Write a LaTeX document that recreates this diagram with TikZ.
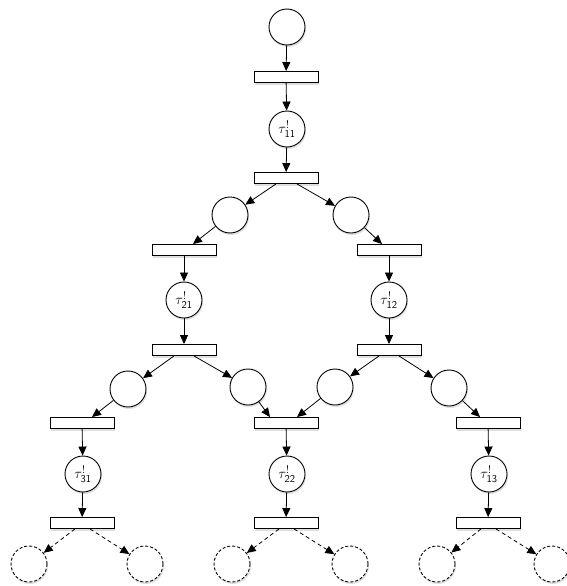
\documentclass[tikz,border=0pt]{standalone}
\usepackage{fontspec}
\setmainfont{Liberation Sans}
\usetikzlibrary{arrows.meta,calc,shadows}
\newcommand{\tlab}[1]{$\tau^{!}_{\mathsf{#1}}$}
\begin{document}
\begin{tikzpicture}[x=1pt,y=-1pt,
  shad/.style={drop shadow={shadow xshift=1pt,shadow yshift=-2pt,opacity=0.25}},
  place/.style={circle,draw,minimum size=36pt,inner sep=0pt,fill=white,line width=0.9pt,shad,font=\fontsize{15}{17}\selectfont},
  dplace/.style={circle,draw,dash pattern=on 3pt off 2pt,minimum size=36pt,inner sep=0pt,fill=white,line width=0.9pt,shad},
  trans/.style={rectangle,draw,minimum width=64pt,minimum height=11pt,inner sep=0pt,fill=white,line width=0.9pt,shad},
  arr/.style={-{Triangle[length=9pt,width=8pt]},line width=0.8pt},
  darr/.style={arr,dash pattern=on 4pt off 3pt}]
\useasboundingbox (0,0) rectangle (567,586);
% top chain
\node[place] (p0) at (287,27) {};
\node[trans] (t1) at (286,77) {};
\node[place] (p1) at (287,129) {\tlab{11}};
\node[trans] (t2) at (286,178) {};
% level 2
\node[place] (pL2) at (230,215) {};
\node[place] (pR2) at (351,215) {};
\node[trans] (tL2) at (184,250) {};
\node[trans] (tR2) at (389,250) {};
\node[place] (p21) at (184,300) {\tlab{21}};
\node[place] (p12) at (389,300) {\tlab{12}};
\node[trans] (tL2b) at (184,350) {};
\node[trans] (tR2b) at (389,350) {};
% level 3
\node[place] (pa) at (128,389) {};
\node[place] (pb) at (248,387) {};
\node[place] (pc) at (335,387) {};
\node[place] (pd) at (449,388) {};
\node[trans] (tA) at (82,423) {};
\node[trans] (tB) at (286,423) {};
\node[trans] (tC) at (488,423) {};
\node[place] (p31) at (83,474) {\tlab{31}};
\node[place] (p22) at (287,474) {\tlab{22}};
\node[place] (p13) at (489,474) {\tlab{13}};
\node[trans] (tA2) at (82,523) {};
\node[trans] (tB2) at (286,523) {};
\node[trans] (tC2) at (488,523) {};
% dashed places
\node[dplace] (d1) at (29,564) {};
\node[dplace] (d2) at (145,564) {};
\node[dplace] (d3) at (232,564) {};
\node[dplace] (d4) at (350,564) {};
\node[dplace] (d5) at (437,564) {};
\node[dplace] (d6) at (552,564) {};
% arcs
\draw[arr] (p0) -- (t1);
\draw[arr] (t1) -- (p1);
\draw[arr] (p1) -- (t2);
\draw[arr] ($(t2.south)+(-10,0)$) -- (pL2);
\draw[arr] ($(t2.south)+(11,0)$) -- (pR2);
\draw[arr] (pL2) -- ($(tL2.north)+(9,0)$);
\draw[arr] (pR2) -- ($(tR2.north)+(-7,0)$);
\draw[arr] (tL2) -- (p21);
\draw[arr] (tR2) -- (p12);
\draw[arr] (p21) -- (tL2b);
\draw[arr] (p12) -- (tR2b);
\draw[arr] ($(tL2b.south)+(-10,0)$) -- (pa);
\draw[arr] ($(tL2b.south)+(10,0)$) -- (pb);
\draw[arr] ($(tR2b.south)+(-10,0)$) -- (pc);
\draw[arr] ($(tR2b.south)+(10,0)$) -- (pd);
\draw[arr] (pa) -- ($(tA.north)+(10,0)$);
\draw[arr] (pb) -- ($(tB.north)+(-16,0)$);
\draw[arr] (pc) -- ($(tB.north)+(11,0)$);
\draw[arr] (pd) -- ($(tC.north)+(-8,0)$);
\draw[arr] (tA) -- (p31);
\draw[arr] (tB) -- (p22);
\draw[arr] (tC) -- (p13);
\draw[arr] (p31) -- (tA2);
\draw[arr] (p22) -- (tB2);
\draw[arr] (p13) -- (tC2);
\draw[darr] ($(tA2.south)+(-7,0)$) -- (d1);
\draw[darr] ($(tA2.south)+(8,0)$) -- (d2);
\draw[darr] ($(tB2.south)+(-7,0)$) -- (d3);
\draw[darr] ($(tB2.south)+(8,0)$) -- (d4);
\draw[darr] ($(tC2.south)+(-7,0)$) -- (d5);
\draw[darr] ($(tC2.south)+(8,0)$) -- (d6);
\end{tikzpicture}
\end{document}
